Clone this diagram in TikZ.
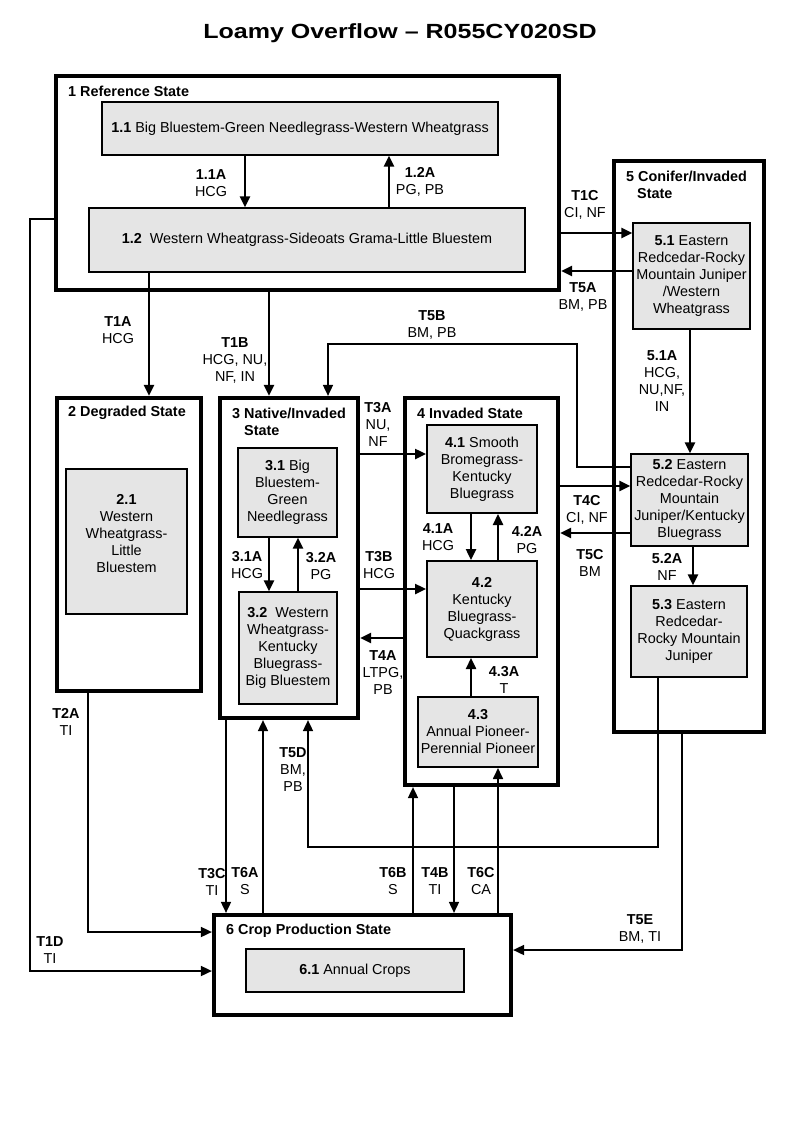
\documentclass[tikz,border=0pt]{standalone}
\usepackage{fontspec}
\setmainfont{Liberation Sans}
\usetikzlibrary{arrows.meta}

\begin{document}
\begin{tikzpicture}[x=1pt, y=-1pt,
		every node/.style={font=\fontsize{14.4}{17}\selectfont, inner sep=0pt},
		state/.style={draw, line width=4.2pt},
		sub/.style={draw, line width=1.2pt, fill=gray!20, align=center},
		subb/.style={sub, line width=2pt},
		lbl/.style={align=center},
		arr/.style={line width=2.4pt, -{Triangle[length=11pt,width=10pt]}},
		lnk/.style={line width=1.7pt, -{Triangle[length=11pt,width=10pt]}}]
			\useasboundingbox (0,0) rectangle (800,1143);

			\node (title) at (400,33) {\fontsize{20.5}{24}\selectfont\bfseries\addfontfeature{FakeStretch=1.22}Loamy Overflow – R055CY020SD};

			\node[state, minimum width=503, minimum height=214] (1) at (307.5,183) {};
			\node[state, minimum width=144, minimum height=293] (2) at (129,544.5) {};
			\node[state, minimum width=138, minimum height=320] (3) at (289,558) {};
			\node[state, minimum width=153, minimum height=387] (4) at (481.5,591.5) {};
			\node[state, minimum width=150, minimum height=571] (5) at (689,446.5) {};
			\node[state, minimum width=297, minimum height=100] (6) at (362.5,965) {};

			\node[anchor=west] (1t) at (68,91) {\textbf{1 Reference State}};
			\node (2t) at (127,413) {\textbf{2 Degraded State}};
			\node[anchor=west, align=left] (3t) at (232,421.5) {\textbf{3 Native/Invaded}\\\hspace*{12pt}\textbf{State}};
			\node[anchor=west] (4t) at (417,413) {\textbf{4 Invaded State}};
			\node[anchor=west, align=left] (5t) at (626,184.5) {\textbf{5 Conifer/Invaded}\\\hspace*{11pt}\textbf{State}};
			\node[anchor=west] (6t) at (226,931) {\textbf{6 Crop Production State}};

			\node[sub, minimum width=396, minimum height=53] (11) at (300,128.5) {\textbf{1.1} Big Bluestem-Green Needlegrass-Western Wheatgrass};
			\node[sub, minimum width=436, minimum height=64] (12) at (307,240) {\textbf{1.2}\ \ Western Wheatgrass-Sideoats Grama-Little Bluestem};
			\node[sub, minimum width=121, minimum height=145] (21) at (126.5,541.5) {\textbf{2.1}\\Western\\Wheatgrass-\\Little\\Bluestem\\\mbox{}};
			\node[sub, minimum width=99, minimum height=89] (31) at (287.5,492.5) {\textbf{3.1} Big\\Bluestem-\\Green\\Needlegrass};
			\node[sub, minimum width=98, minimum height=112] (32) at (288,648) {\textbf{3.2}\ \ Western\\Wheatgrass-\\Kentucky\\Bluegrass-\\Big Bluestem};
			\node[subb, minimum width=110, minimum height=88] (41) at (482,469) {\textbf{4.1} Smooth\\Bromegrass-\\Kentucky\\Bluegrass};
			\node[subb, minimum width=110, minimum height=96] (42) at (482,609) {\textbf{4.2}\\Kentucky\\Bluegrass-\\Quackgrass};
			\node[subb, minimum width=120, minimum height=70] (43) at (478,732) {\textbf{4.3}\\Annual Pioneer-\\Perennial Pioneer};
			\node[sub, minimum width=117, minimum height=106] (51) at (691.5,276) {\textbf{5.1} Eastern\\Redcedar-Rocky\\Mountain Juniper\\/Western\\Wheatgrass};
			\node[sub, minimum width=117, minimum height=92] (52) at (689.5,500) {\textbf{5.2} Eastern\\Redcedar-Rocky\\Mountain\\Juniper/Kentucky\\Bluegrass};
			\node[sub, minimum width=116, minimum height=91] (53) at (689,631.5) {\textbf{5.3} Eastern\\Redcedar-\\Rocky Mountain\\Juniper};
			\node[sub, minimum width=218, minimum height=43] (61) at (355,970.5) {\textbf{6.1} Annual Crops};

			\node[lbl] (11A) at (211,183.5) {\textbf{1.1A}\\HCG};
			\node[lbl] (12A) at (420,182) {\textbf{1.2A}\\PG, PB};
			\node[lbl] (T1C) at (585,204.5) {\textbf{T1C}\\CI, NF};
			\node[lbl] (T5A) at (583,296.5) {\textbf{T5A}\\BM, PB};
			\node[lbl] (T1A) at (118,330.5) {\textbf{T1A}\\HCG};
			\node[lbl] (T1B) at (235,360) {\textbf{T1B}\\HCG, NU,\\NF, IN};
			\node[lbl] (T5B) at (432,324.5) {\textbf{T5B}\\BM, PB};
			\node[lbl] (51A) at (662,381.5) {\textbf{5.1A}\\HCG,\\NU,NF,\\IN};
			\node[lbl] (T3A) at (378,424) {\textbf{T3A}\\NU,\\NF};
			\node[lbl] (T3B) at (379,565.5) {\textbf{T3B}\\HCG};
			\node[lbl] (T4A) at (383,673) {\textbf{T4A}\\LTPG,\\PB};
			\node[lbl] (31A) at (247,565.5) {\textbf{3.1A}\\HCG};
			\node[lbl] (32A) at (321,566.5) {\textbf{3.2A}\\PG};
			\node[lbl] (41A) at (438,537.5) {\textbf{4.1A}\\HCG};
			\node[lbl] (42A) at (527,540.5) {\textbf{4.2A}\\PG};
			\node[lbl] (T4C) at (587,509.5) {\textbf{T4C}\\CI, NF};
			\node[lbl] (T5C) at (590,563) {\textbf{T5C}\\BM};
			\node[lbl] (52A) at (667,566.5) {\textbf{5.2A}\\NF};
			\node[lbl] (43A) at (504,679.5) {\textbf{4.3A}\\T};
			\node[lbl] (T2A) at (66,721.5) {\textbf{T2A}\\TI};
			\node[lbl] (T5D) at (293,770) {\textbf{T5D}\\BM,\\PB};
			\node[lbl] (T3C) at (212,881.5) {\textbf{T3C}\\TI};
			\node[lbl] (T6A) at (245,881.5) {\textbf{T6A}\\S};
			\node[lbl] (T6B) at (393,881.5) {\textbf{T6B}\\S};
			\node[lbl] (T4B) at (435,881.5) {\textbf{T4B}\\TI};
			\node[lbl] (T6C) at (481,881.5) {\textbf{T6C}\\CA};
			\node[lbl] (T5E) at (640,928.5) {\textbf{T5E}\\BM, TI};
			\node[lbl] (T1D) at (50,950) {\textbf{T1D}\\TI};

			\path[arr]
				(11.south -| 245,0) edge (12.north -| 245,0)
				(12.north -| 389,0) edge (11.south -| 389,0)
				(1.east |- 0,233) edge (51.west |- 0,233)
				(51.west |- 0,271) edge (1.east |- 0,271)
				(12.south -| 149,0) edge (2.north -| 149,0)
				(1.south -| 269,0) edge (3.north -| 269,0)
				(51.south -| 690,0) edge (52.north -| 690,0)
				(52.south -| 693,0) edge (53.north -| 693,0)
				(31.south -| 269,0) edge (32.north -| 269,0)
				(32.north -| 298,0) edge (31.south -| 298,0)
				(3.east |- 0,454) edge (41.west |- 0,454)
				(3.east |- 0,589) edge (42.west |- 0,589)
				(4.west |- 0,638) edge (3.east |- 0,638)
				(41.south -| 471,0) edge (42.north -| 471,0)
				(42.north -| 498,0) edge (41.south -| 498,0)
				(43.north -| 471,0) edge (42.south -| 471,0)
				(4.east |- 0,486) edge (52.west |- 0,486)
				(52.west |- 0,533) edge (4.east |- 0,533)
			;

			\path[lnk]
				(3.south -| 226,0) edge (6.north -| 226,0)
				(6.north -| 263,0) edge (3.south -| 263,0)
				(6.north -| 413,0) edge (4.south -| 413,0)
				(4.south -| 454,0) edge (6.north -| 454,0)
				(6.north -| 498,0) edge (43.south -| 498,0)
			;

			\draw[lnk] (52.west |- 0,467) -| (577,344) -| (3.north -| 328,0);
			\draw[lnk] (1.west |- 0,219) -| (30,971) -- (6.west |- 0,971);
			\draw[lnk] (2.south -| 88,0) |- (6.west |- 0,932);
			\draw[lnk] (53.south -| 658,0) |- (308,847) -- (3.south -| 308,0);
			\draw[lnk] (5.south -| 682,0) |- (6.east |- 0,950);
		\end{tikzpicture}
\end{document}
